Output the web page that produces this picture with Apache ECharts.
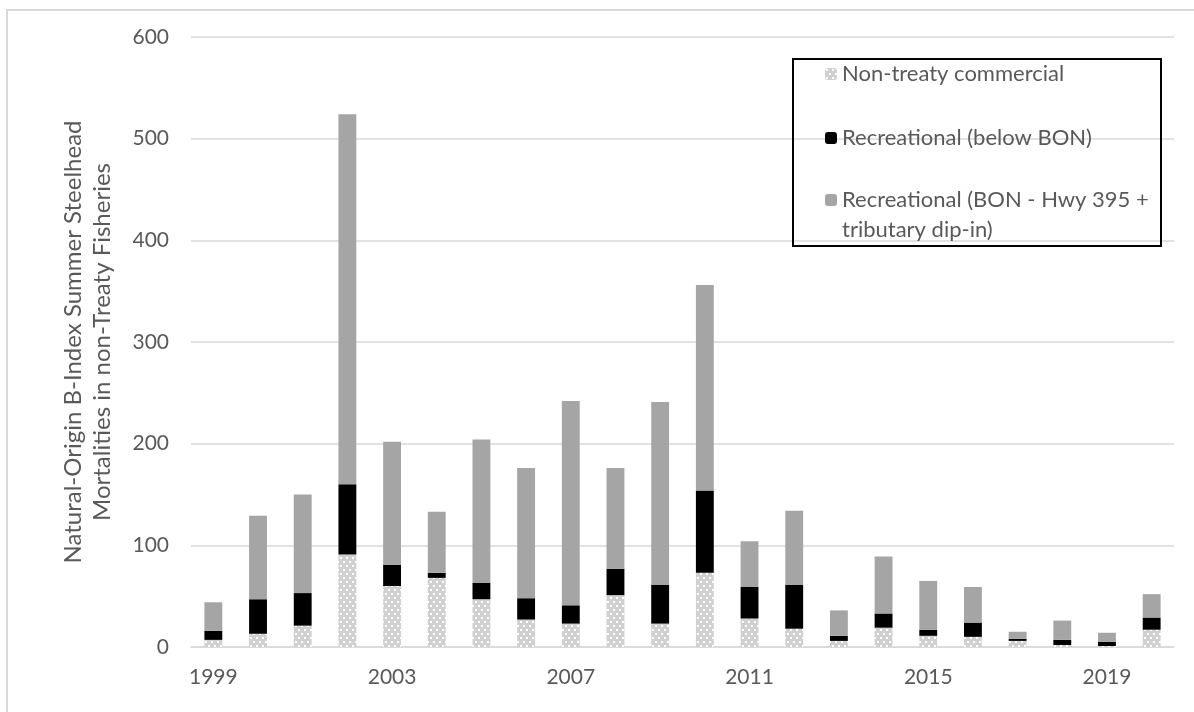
<!DOCTYPE html>
<html>
<head>
<meta charset="utf-8">
<script src="https://cdn.jsdelivr.net/npm/echarts@6/dist/echarts.min.js"></script>
<style>
  html, body { margin: 0; padding: 0; background: #fff; }
  #chart { width: 1194px; height: 712px; }
</style>
</head>
<body>
<div id="chart"></div>
<script>
// values
const years = ['1999', '2000', '2001', '2002', '2003', '2004', '2005', '2006', '2007', '2008', '2009',
  '2010', '2011', '2012', '2013', '2014', '2015', '2016', '2017', '2018', '2019', '2020'];
const nonTreatyCommercial = [7, 13, 21, 91, 60, 68, 47, 27, 23, 51, 23, 73, 28, 18, 6, 19, 11, 10, 6, 2, 1, 17];
const recBelowBon = [9, 34, 32, 69, 21, 5, 16, 21, 18, 26, 38, 81, 31, 43, 5, 14, 6, 14, 2, 5, 4, 12];
const recBonHwy = [28, 82, 97, 364, 121, 60, 141, 128, 201, 99, 180, 202, 45, 73, 25, 56, 48, 35, 7, 19, 9, 23];
const yTicks = { min: 0, max: 600, step: 100 };

const names = [
  'Non-treaty commercial',
  'Recreational (below BON)',
  'Recreational (BON - Hwy 395 + tributary dip-in)',
];

const textColor = '#595959';
const font = 'Lato, "Liberation Sans", sans-serif';

// light gray with white dots, like the excel fill
function dotPattern() {
  const c = document.createElement('canvas');
  c.width = 6;
  c.height = 8;
  const ctx = c.getContext('2d');
  ctx.fillStyle = '#d0d0d0';
  ctx.fillRect(0, 0, 6, 8);
  ctx.fillStyle = '#ffffff';
  ctx.fillRect(1, 1, 2, 2);
  ctx.fillRect(4, 5, 2, 2);
  return { image: c, repeat: 'repeat' };
}

const chart = echarts.init(document.getElementById('chart'), null, { renderer: 'canvas' });

chart.setOption({
  animation: false,
  backgroundColor: '#fff',
  textStyle: { fontFamily: font },
  grid: { left: 191, right: 20, top: 37, bottom: 65 },
  graphic: [
    {
      type: 'rect',
      shape: { x: 7, y: 10, width: 1250, height: 800 },
      style: { fill: 'none', stroke: '#d9d9d9', lineWidth: 2 },
      silent: true,
    },
    {
      type: 'rect',
      shape: { x: 793, y: 59, width: 368, height: 187 },
      style: { fill: 'none', stroke: '#000', lineWidth: 2 },
      silent: true,
      z: 10,
    },
  ],
  legend: [
    {
      data: [names[0], names[1]],
      orient: 'vertical',
      left: 825,
      top: 59,
      padding: 0,
      itemGap: 34,
      itemWidth: 12,
      itemHeight: 12,
      textStyle: { color: textColor, fontSize: 22, lineHeight: 30, fontFamily: font },
    },
    {
      data: [names[2]],
      orient: 'vertical',
      left: 825,
      top: 155,
      padding: 0,
      itemWidth: 12,
      itemHeight: 12,
      // empty first line keeps the icon level with the first text line
      formatter: () => '\nRecreational (BON - Hwy 395 +\ntributary dip-in)',
      textStyle: { color: textColor, fontSize: 22, lineHeight: 30, fontFamily: font },
    },
  ],
  xAxis: {
    type: 'category',
    data: years,
    axisTick: { show: false },
    axisLine: { lineStyle: { color: '#d9d9d9', width: 1.5 } },
    axisLabel: { interval: 3, color: textColor, fontSize: 21, margin: 20 },
  },
  yAxis: {
    type: 'value',
    min: yTicks.min,
    max: yTicks.max,
    interval: yTicks.step,
    name: 'Natural-Origin B-Index Summer Steelhead\nMortalities in non-Treaty Fisheries',
    nameLocation: 'middle',
    nameRotate: 90,
    nameGap: 74,
    nameTextStyle: { color: textColor, fontSize: 24, lineHeight: 29 },
    axisLine: { show: false },
    axisTick: { show: false },
    axisLabel: { color: textColor, fontSize: 21, margin: 22 },
    splitLine: { lineStyle: { color: '#d9d9d9', width: 1.5 } },
  },
  series: [
    {
      name: names[0],
      type: 'bar',
      stack: 'total',
      barWidth: '40%',
      data: nonTreatyCommercial,
      itemStyle: { color: dotPattern() },
    },
    {
      name: names[1],
      type: 'bar',
      stack: 'total',
      data: recBelowBon,
      itemStyle: { color: '#000000' },
    },
    {
      name: names[2],
      type: 'bar',
      stack: 'total',
      data: recBonHwy,
      itemStyle: { color: '#a5a5a5' },
    },
  ],
});
</script>
</body>
</html>
